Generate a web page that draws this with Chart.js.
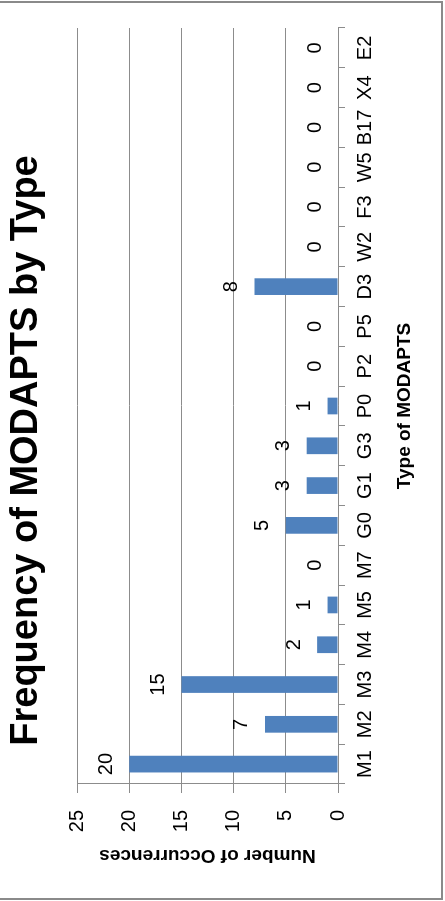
<!DOCTYPE html>
<html>
<head>
<meta charset="utf-8">
<script src="https://cdn.jsdelivr.net/npm/chart.js@4/dist/chart.umd.min.js"></script>
<style>
  html, body { margin: 0; padding: 0; background: #fff; overflow: hidden; }
  body { width: 445px; height: 901px; position: relative; }
  /* landscape chart turned a quarter-turn counter-clockwise */
  #wrap {
    position: absolute; left: 0; top: 901px;
    width: 901px; height: 445px;
    transform-origin: 0 0;
    transform: rotate(-90deg);
  }
  #frame {
    position: absolute; left: -3px; top: 1px;
    width: 446px; height: 899px;
    box-sizing: border-box;
    border: 2px solid #8a8a8a;
    pointer-events: none;
  }
</style>
</head>
<body>
<div id="wrap"><canvas id="c" width="901" height="445"></canvas></div>
<div id="frame"></div>
<script>
// MODAPTS codes and how often each one occurred
const categories = ['M1', 'M2', 'M3', 'M4', 'M5', 'M7', 'G0', 'G1', 'G3', 'P0',
                    'P2', 'P5', 'D3', 'W2', 'F3', 'W5', 'B17', 'X4', 'E2'];
const occurrences = [20, 7, 15, 2, 1, 0, 5, 3, 3, 1,
                     0, 0, 8, 0, 0, 0, 0, 0, 0];
const valueTicks = [0, 5, 10, 15, 20, 25];

const FONT = "'Liberation Sans', Arial, sans-serif";
const GRID = '#8c8c8c';

// value printed above each bar
const barValueLabels = {
  id: 'barValueLabels',
  afterDatasetsDraw(chart) {
    const ctx = chart.ctx;
    const meta = chart.getDatasetMeta(0);
    const data = chart.data.datasets[0].data;
    ctx.save();
    ctx.font = '20px ' + FONT;
    ctx.fillStyle = '#000';
    ctx.textAlign = 'center';
    ctx.textBaseline = 'middle';
    meta.data.forEach((bar, i) => {
      ctx.fillText(String(data[i]), bar.x, bar.y - 23);
    });
    ctx.restore();
  }
};

new Chart(document.getElementById('c'), {
  type: 'bar',
  data: {
    labels: categories,
    datasets: [{
      data: occurrences,
      backgroundColor: '#4f81bd',
      borderWidth: 0,
      categoryPercentage: 1.0,
      barPercentage: 0.42
    }]
  },
  options: {
    responsive: false,
    animation: false,
    devicePixelRatio: 1,
    layout: { padding: 0 },
    plugins: {
      legend: { display: false },
      tooltip: { enabled: false },
      title: {
        display: true,
        text: 'Frequency of MODAPTS by Type',
        color: '#000',
        font: { family: FONT, size: 38, weight: 'bold', lineHeight: 1.2 },
        padding: { top: 4, bottom: 27.4 }
      }
    },
    scales: {
      x: {
        grid: {
          offset: true,
          drawOnChartArea: false,
          drawTicks: true,
          tickLength: 7,
          color: GRID
        },
        border: { display: true, color: GRID, width: 1 },
        ticks: {
          color: '#000',
          font: { family: FONT, size: 20 },
          padding: 8,
          maxRotation: 0,
          autoSkip: false
        },
        title: {
          display: true,
          text: 'Type of MODAPTS',
          color: '#000',
          font: { family: FONT, size: 19, weight: 'bold', lineHeight: 1.2 },
          padding: { top: 0, bottom: 28.6 }
        },
        afterFit(scale) { scale.height = 107; }
      },
      y: {
        min: 0,
        max: 25,
        afterBuildTicks(scale) { scale.ticks = valueTicks.map(v => ({ value: v })); },
        grid: {
          drawOnChartArea: true,
          drawTicks: true,
          tickLength: 9,
          color: GRID
        },
        border: { display: true, color: GRID, width: 1 },
        ticks: {
          color: '#000',
          font: { family: FONT, size: 20 },
          padding: 17
        },
        title: {
          display: true,
          text: 'Number of Occurrences',
          color: '#000',
          font: { family: FONT, size: 19, weight: 'bold', lineHeight: 1.2 },
          padding: { top: 34, bottom: 0 }
        },
        afterFit(scale) { scale.width = 117; }
      },
      // empty strip on the far side of the plot so the title stays centred on the canvas
      spacer: {
        type: 'linear',
        position: 'right',
        display: true,
        grid: { display: false, drawTicks: false },
        border: { display: false },
        ticks: { display: false },
        afterFit(scale) { scale.width = 28; }
      }
    }
  },
  plugins: [barValueLabels]
});
</script>
</body>
</html>
